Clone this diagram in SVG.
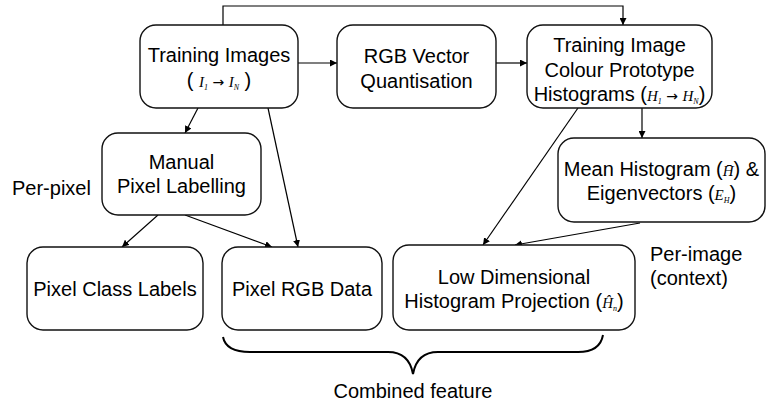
<svg xmlns="http://www.w3.org/2000/svg" width="766" height="406" viewBox="0 0 766 406">
<defs>
<marker id="a" viewBox="0 0 10 10" refX="10" refY="5" markerWidth="7" markerHeight="7" markerUnits="userSpaceOnUse" orient="auto">
<path d="M0,0 L10,5 L0,10 Z" fill="#000"/>
</marker>
<style>
.box{fill:#fff;stroke:#111;stroke-width:1.4}
.t{font-family:"Liberation Sans",Arial,sans-serif;font-size:20px;fill:#000;text-anchor:middle}
.l{font-family:"Liberation Sans",Arial,sans-serif;font-size:20px;fill:#000}
.m{font-family:"Liberation Serif","Times New Roman",serif;font-style:italic;font-size:15px}
.ar{font-family:"DejaVu Sans",sans-serif;font-style:normal;font-size:14px}
.s{font-size:8px}
.c{stroke:#000;stroke-width:1.2;fill:none;marker-end:url(#a)}
.br{stroke:#000;stroke-width:2;fill:none}
</style>
</defs>
<rect width="766" height="406" fill="#fff"/>
<g id="connectors">
<polyline class="c" points="223,25 223,6 623,6 623,25"/>
<line class="c" x1="298" y1="63" x2="337" y2="63"/>
<line class="c" x1="496" y1="63" x2="527" y2="63"/>
<line class="c" x1="642" y1="108" x2="642" y2="138"/>
<line class="c" x1="578" y1="108" x2="483" y2="245"/>
<line class="c" x1="640" y1="223" x2="515" y2="245"/>
<line class="c" x1="198" y1="108" x2="185" y2="133"/>
<line class="c" x1="268" y1="108" x2="298" y2="247"/>
<line class="c" x1="158" y1="215" x2="122" y2="247"/>
<line class="c" x1="185" y1="215" x2="272" y2="247"/>
</g>
<g id="training-images">
<rect class="box" x="140" y="25" width="158" height="83" rx="16"/>
<text class="t" x="219" y="62">Training Images</text>
<text class="t" x="219" y="87">( <tspan class="m">I</tspan><tspan class="m s" dy="3">1</tspan><tspan class="ar" dy="-3"> → </tspan><tspan class="m">I</tspan><tspan class="m s" dy="3">N</tspan><tspan dy="-3">  )</tspan></text>
</g>
<g id="rgb-vq">
<rect class="box" x="337" y="25" width="159" height="83" rx="16"/>
<text class="t" x="416.5" y="63">RGB Vector</text>
<text class="t" x="416.5" y="88">Quantisation</text>
</g>
<g id="colour-prototype">
<rect class="box" x="527" y="25" width="185" height="83" rx="16"/>
<text class="t" x="619.5" y="52">Training Image</text>
<text class="t" x="619.5" y="77">Colour Prototype</text>
<text class="t" x="619.5" y="101">Histograms (<tspan class="m">H</tspan><tspan class="m s" dy="3">1</tspan><tspan class="ar" dy="-3"> → </tspan><tspan class="m">H</tspan><tspan class="m s" dy="3">N</tspan><tspan dy="-3">)</tspan></text>
</g>
<g id="manual-labelling">
<rect class="box" x="102" y="133" width="159" height="82" rx="16"/>
<text class="t" x="181.5" y="169">Manual</text>
<text class="t" x="181.5" y="193">Pixel Labelling</text>
</g>
<g id="mean-histogram">
<rect class="box" x="558" y="138" width="207" height="84" rx="16"/>
<text class="t" x="661.5" y="176">Mean Histogram (<tspan class="m">H̄</tspan>) &amp;</text>
<text class="t" x="661.5" y="200">Eigenvectors (<tspan class="m">E</tspan><tspan class="m s" dy="3">H</tspan><tspan dy="-3">)</tspan></text>
</g>
<g id="pixel-class-labels">
<rect class="box" x="27" y="247" width="176" height="83" rx="16"/>
<text class="t" x="115" y="296">Pixel Class Labels</text>
</g>
<g id="pixel-rgb-data">
<rect class="box" x="222" y="247" width="160" height="83" rx="16"/>
<text class="t" x="302" y="296">Pixel RGB Data</text>
</g>
<g id="low-dim-projection">
<rect class="box" x="393" y="245" width="242" height="85" rx="16"/>
<text class="t" x="514" y="284">Low Dimensional</text>
<text class="t" x="514" y="308">Histogram Projection (<tspan class="m">Ĥ</tspan><tspan class="m s" dy="3">n</tspan><tspan dy="-3">)</tspan></text>
</g>
<g id="labels">
<text class="l" x="12" y="195">Per-pixel</text>
<text class="l" x="650" y="261">Per-image</text>
<text class="l" x="650" y="285">(context)</text>
<path class="br" d="M223,337 Q226,352 250,352 L388,352 Q409,352 413,374 Q417,352 438,352 L578,352 Q600,352 603,335"/>
<text class="t" x="413" y="398">Combined feature</text>
</g>
</svg>
